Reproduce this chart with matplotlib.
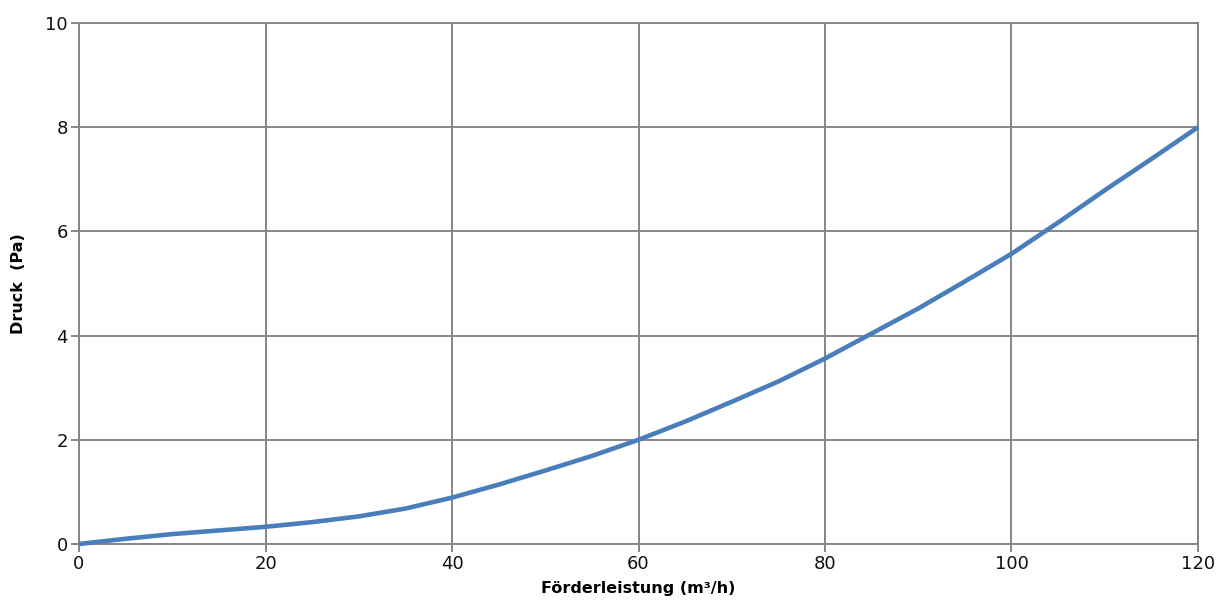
import matplotlib
matplotlib.use("Agg")
import matplotlib.pyplot as plt

flow = [0, 5, 10, 15, 20, 25, 30, 35, 40, 45, 50, 55, 60,
        65, 70, 75, 80, 85, 90, 95, 100, 105, 110, 115, 120]
pressure = [0, 0.10, 0.19, 0.26, 0.33, 0.42, 0.53, 0.68, 0.89, 1.14, 1.41, 1.69, 2.0,
            2.35, 2.73, 3.12, 3.56, 4.04, 4.52, 5.04, 5.57, 6.17, 6.79, 7.39, 8.0]
x_ticks = [0, 20, 40, 60, 80, 100, 120]
y_ticks = [0, 2, 4, 6, 8, 10]

plt.rcParams['font.family'] = ['DejaVu Sans']

fig = plt.figure(figsize=(12.31, 6.12), dpi=100)
ax = fig.add_axes([79/1231, 68/612, (1198-79)/1231, (544-23)/612])

grid_color = '#868686'
ax.plot(flow, pressure, color='#4a7ebb', linewidth=3.3, solid_capstyle='butt',
        solid_joinstyle='round', zorder=3, clip_on=False)

ax.set_xlim(0, 120)
ax.set_ylim(0, 10)
ax.set_xticks(x_ticks)
ax.set_yticks(y_ticks)
ax.grid(True, color=grid_color, linewidth=1.4)
for s in ax.spines.values():
    s.set_color(grid_color)
    s.set_linewidth(1.4)
ax.tick_params(axis='both', color=grid_color, width=1.4, length=6, labelsize=13, pad=2, labelcolor='#111111')

ax.set_xlabel('Förderleistung (m³/h)', fontsize=11.5, fontweight='bold', labelpad=6)
ax.set_ylabel('Druck  (Pa)', fontsize=11.5, fontweight='bold', labelpad=14)

fig.savefig('out.png', dpi=100)
